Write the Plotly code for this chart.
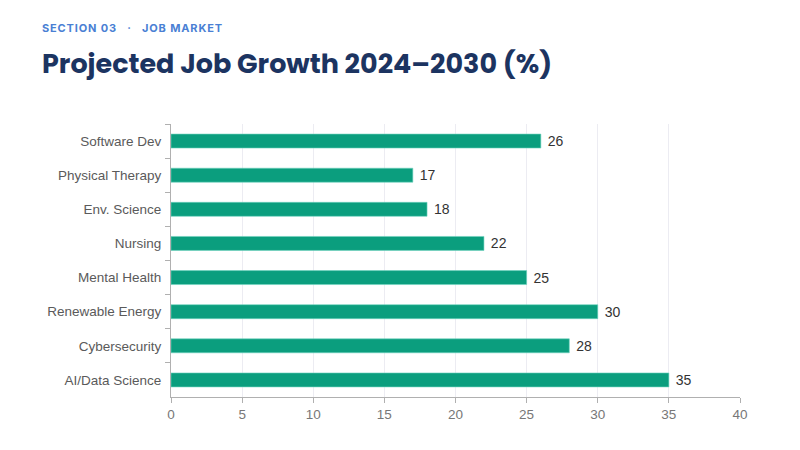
import plotly.graph_objects as go

# top-to-bottom order as shown
categories = ["Software Dev", "Physical Therapy", "Env. Science", "Nursing",
              "Mental Health", "Renewable Energy", "Cybersecurity", "AI/Data Science"]
growth = [26, 17, 18, 22, 25, 30, 28, 35]
x_ticks = [0, 5, 10, 15, 20, 25, 30, 35, 40]


def spaced(s, sep="\u200a"):
    return sep.join(s)


# page body adds an 8px offset, so margins are set relative to that
L, T = 163, 116
PW = 569

fig = go.Figure()
fig.add_trace(go.Bar(
    y=categories, x=growth, orientation="h",
    marker=dict(color="#0b9e7e", line=dict(color="#6fd3bf", width=0.6)),
    width=0.41,
    text=growth, texttemplate=" %{x}", textposition="outside", constraintext="none",
    textfont=dict(family="Liberation Sans, Arial", size=14, color="#333333"),
    cliponaxis=False, hoverinfo="skip",
))

fig.update_layout(
    width=800, height=450,
    margin=dict(l=L, r=800 - L - PW, t=T, b=61),
    paper_bgcolor="white", plot_bgcolor="white",
    showlegend=False,
    font=dict(family="Liberation Sans, Arial", size=13, color="#666666"),
    xaxis=dict(range=[0, 40], tickvals=x_ticks, showgrid=True, gridcolor="#ececf2",
               gridwidth=1, zeroline=False, showline=True, linecolor="#b0b0b0",
               ticks="outside", ticklen=5, tickcolor="#b0b0b0",
               tickfont=dict(size=13.5, color="#777777"), fixedrange=True),
    yaxis=dict(autorange="reversed", showgrid=False, zeroline=False, showline=True,
               linecolor="#b0b0b0", ticks="outside", ticklen=5, tickcolor="#b0b0b0",
               tickson="boundaries", ticklabelstandoff=6,
               tickfont=dict(size=13.5, color="#5a5a5a"), fixedrange=True),
    annotations=[
        dict(text="<b>" + spaced("SECTION 03") + "\u2003·\u2003" + spaced("JOB MARKET") + "</b>",
             xref="paper", yref="paper", x=(32 - L) / PW, y=1, xanchor="left",
             yanchor="middle", yshift=T - 20, showarrow=False,
             font=dict(family="Inter, Noto Sans", size=11, color="#4a7fd4")),
        dict(text="<b>Projected Job Growth 2024–2030 (%)</b>",
             xref="paper", yref="paper", x=(32 - L) / PW, y=1, xanchor="left",
             yanchor="middle", yshift=T - 55, showarrow=False,
             font=dict(family="Poppins, Inter, Noto Sans", size=27, color="#1c3461")),
    ],
)

fig.write_html("out.html")
